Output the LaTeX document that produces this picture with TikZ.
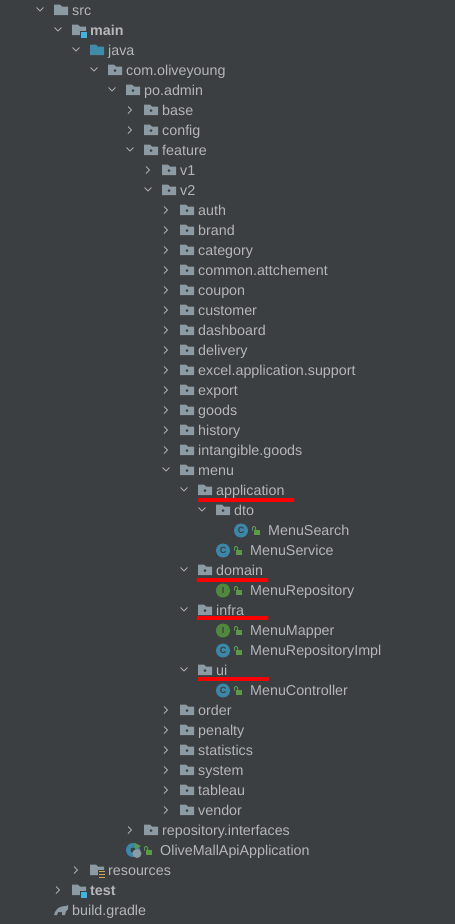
\documentclass[tikz,border=0pt]{standalone}
\usepackage{fontspec}
\setmainfont{Liberation Sans}
\definecolor{panel}{HTML}{3C3F41}
\definecolor{rowtext}{HTML}{B4B6B8}
\definecolor{chev}{HTML}{A9ABAD}
\definecolor{foldergray}{HTML}{8C9AA3}
\definecolor{javablue}{HTML}{3F8CA8}
\definecolor{badge}{HTML}{3DB5E0}
\definecolor{classblue}{HTML}{3A87A8}
\definecolor{ifacegreen}{HTML}{4F8A3C}
\definecolor{lockgreen}{HTML}{5A9A46}
\definecolor{resyellow}{HTML}{D6A34E}
\tikzset{
	rowlabel/.style={anchor=base west, inner sep=0pt, text=rowtext, font=\fontsize{14.3}{16}\selectfont},
	boldlabel/.style={rowlabel, font=\fontsize{14.3}{16}\selectfont\bfseries},
	chevron/.style={draw=chev, line width=0.9pt},
	redmark/.style={draw=red, line width=4pt},
	badgeletter/.style={inner sep=0pt, font=\fontsize{9}{10}\selectfont\bfseries, text=panel}
}
% open and closed arrows in front of a row
\newcommand{\chevdown}[2]{\draw [chevron] (#1-3.5,#2-2.5) -- ++(3.5,3.5) -- ++(3.5,-3.5);}
\newcommand{\chevright}[2]{\draw [chevron] (#1-2,#2-3.5) -- ++(3.5,3.5) -- ++(-3.5,3.5);}
% folder shapes, x is the left edge of the icon
\newcommand{\plainfolder}[3]{\fill [#3] (#1,#2-5.5) -- ++(6,0) -- ++(2,2) -- ++(6,0) -- ++(0,8.5) -- ++(-14,0) -- cycle;}
\newcommand{\pkgfolder}[2]{\plainfolder{#1}{#2}{foldergray}
	\fill [panel] (#1+7,#2+0.5) circle (1.5);}
\newcommand{\bluebadge}[2]{\fill [panel] (#1+8,#2+1) rectangle ++(8,8);
	\fill [badge] (#1+9,#2+2) rectangle ++(6,6);}
% round class icon with its lock
\newcommand{\lockicon}[2]{\fill [lockgreen] (#1+2,#2-0.5) rectangle ++(6,4.5);
	\draw [lockgreen, line width=1pt, rounded corners=1pt] (#1+0.5,#2) -- (#1+0.5,#2-4) -- (#1+3.5,#2-4) -- (#1+3.5,#2);}
\newcommand{\kindicon}[4]{\fill [#4] (#1+7,#2+0.5) circle (7);
	\node [badgeletter] at (#1+7,#2+0.5) {#3};
	\lockicon{#1+18}{#2+0.5}}
% closed package rows
\newcommand{\closedpkg}[3]{\chevright{#1}{#2}
	\pkgfolder{#1+14}{#2}
	\node (row#2) at (#1+32,#2+5) [rowlabel] {#3};}
\newcommand{\openpkg}[3]{\chevdown{#1}{#2}
	\pkgfolder{#1+14}{#2}
	\node (row#2) at (#1+32,#2+5) [rowlabel] {#3};}
\begin{document}
\begin{tikzpicture}[x=1pt, y=-1pt]
	\useasboundingbox (0,0) rectangle (455,924);
	\fill [panel] (0,0) rectangle (455,924);
	% source roots
	\chevdown{40}{10}
	\plainfolder{54}{10}{foldergray}
	\node (row10) at (72,15) [rowlabel] {src};
	\chevdown{58}{30}
	\plainfolder{72}{30}{foldergray}
	\bluebadge{72}{30}
	\node (row30) at (90,35) [boldlabel] {main};
	\chevdown{76}{50}
	\plainfolder{90}{50}{javablue}
	\node (row50) at (108,55) [rowlabel] {java};
	% packages
	\openpkg{94}{70}{com.oliveyoung}
	\openpkg{112}{90}{po.admin}
	\closedpkg{130}{110}{base}
	\closedpkg{130}{130}{config}
	\openpkg{130}{150}{feature}
	\closedpkg{148}{170}{v1}
	\openpkg{148}{190}{v2}
	\foreach \y/\t in {210/auth,230/brand,250/category,270/common.attchement,290/coupon,310/customer,330/dashboard,350/delivery,370/excel.application.support,390/export,410/goods,430/history,450/intangible.goods,710/order,730/penalty,750/statistics,770/system,790/tableau,810/vendor}
		{\closedpkg{166}{\y}{\t}}
	\openpkg{166}{470}{menu}
	% menu package
	\openpkg{184}{490}{application}
	\openpkg{202}{510}{dto}
	\kindicon{234}{530}{C}{classblue}
	\node (row530) at (268,535) [rowlabel] {MenuSearch};
	\kindicon{216}{550}{C}{classblue}
	\node (row550) at (250,555) [rowlabel] {MenuService};
	\openpkg{184}{570}{domain}
	\kindicon{216}{590}{I}{ifacegreen}
	\node (row590) at (250,595) [rowlabel] {MenuRepository};
	\openpkg{184}{610}{infra}
	\kindicon{216}{630}{I}{ifacegreen}
	\node (row630) at (250,635) [rowlabel] {MenuMapper};
	\kindicon{216}{650}{C}{classblue}
	\node (row650) at (250,655) [rowlabel] {MenuRepositoryImpl};
	\openpkg{184}{670}{ui}
	\kindicon{216}{690}{C}{classblue}
	\node (row690) at (250,695) [rowlabel] {MenuController};
	% red underlines
	\draw [redmark] (198,500) -- (294,500);
	\draw [redmark] (197,580) -- (268,580);
	\draw [redmark] (197,618) -- (268,618);
	\draw [redmark] (198,679) -- (269,679);
	% bottom of the tree
	\closedpkg{130}{830}{repository.interfaces}
	\fill [classblue] (133,850) circle (7);
	\fill [panel] (133,850) circle (2.5);
	\fill [lockgreen] (135,843) -- ++(6,3) -- ++(-6,3) -- cycle;
	\fill [foldergray] (137,853.5) circle (4.5);
	\lockicon{144}{850.5}
	\node (row850) at (160,855) [rowlabel] {OliveMallApiApplication};
	\chevright{76}{870}
	\plainfolder{90}{870}{foldergray}
	\fill [panel] (98,870) rectangle ++(8,9);
	\foreach \k in {871.5,874.5,877.5}
		{\draw [resyellow, line width=0.9pt] (99,\k) -- ++(6,0);}
	\node (row870) at (108,875) [rowlabel] {resources};
	\chevright{58}{890}
	\plainfolder{72}{890}{foldergray}
	\bluebadge{72}{890}
	\node (row890) at (90,895) [boldlabel] {test};
	\fill [foldergray] (54,915) .. controls (56,908) and (60,906) .. (66,906) -- (68,905) -- (68,909) -- (66,911) -- (65,915) -- (62,915) -- (62,912) -- (58,912) -- (57,915) -- cycle;
	\node (row910) at (72,915) [rowlabel] {build.gradle};
\end{tikzpicture}
\end{document}
